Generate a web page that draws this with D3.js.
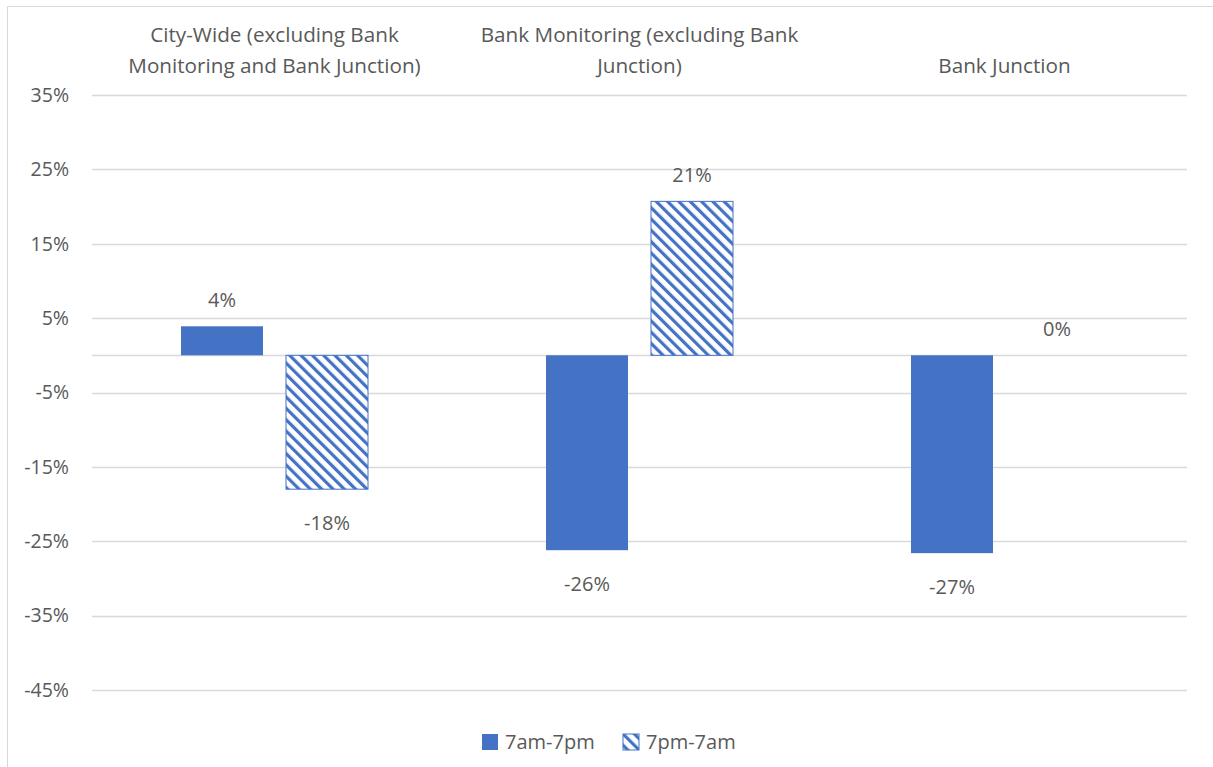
<!DOCTYPE html>
<html>
<head>
	<title>D3.js Grouped Bar Chart</title>
	<script src="https://d3js.org/d3.v7.min.js"></script>
	<style>
		body { margin: 0; background: #fff; }
		text { font-family: "Open Sans", "Noto Sans", sans-serif; fill: #595959; }
	</style>
</head>
<body>
	<script type="text/javascript">
		// Categories (each label split over lines as in the original)
		var categories = [
			["City-Wide (excluding Bank", "Monitoring and Bank Junction)"],
			["Bank Monitoring (excluding Bank", "Junction)"],
			["Bank Junction"]
		];
		var seriesNames = ["7am-7pm", "7pm-7am"];
		var dayValues = [3.9, -26.2, -26.6];
		var nightValues = [-18.0, 20.7, 0];
		var dayLabels = ["4%", "-26%", "-27%"];
		var nightLabels = ["-18%", "21%", "0%"];
		var tickValues = [35, 25, 15, 5, -5, -15, -25, -35, -45];

		var width = 1213, height = 767;
		var plotLeft = 92, plotRight = 1187, plotTop = 95, plotBottom = 690;
		var blue = "#4472c4";

		var svg = d3.select("body").append("svg")
			.attr("width", width)
			.attr("height", height);

		// hatch pattern for the second series (lines running down to the right)
		var defs = svg.append("defs");
		var pat = defs.append("pattern")
			.attr("id", "hatch")
			.attr("patternUnits", "userSpaceOnUse")
			.attr("width", 8).attr("height", 8)
			.attr("patternTransform", "rotate(-45)");
		pat.append("rect").attr("width", 8).attr("height", 8).attr("fill", "#fff");
		pat.append("rect").attr("x", 0).attr("width", 3.2).attr("height", 8).attr("fill", blue);

		// outer chart border (cut off at right and bottom)
		svg.append("rect")
			.attr("x", 7.5).attr("y", 6.5)
			.attr("width", 1220).attr("height", 780)
			.attr("fill", "none")
			.attr("stroke", "#d9d9d9");

		var y = d3.scaleLinear().domain([-45, 35]).range([plotBottom, plotTop]);
		var x0 = d3.scaleBand().domain(d3.range(categories.length)).range([plotLeft, plotRight]);
		var groupWidth = 187;
		var x1 = d3.scaleBand().domain([0, 1]).range([0, groupWidth]).paddingInner(23 / 105);

		// gridlines
		svg.append("g").selectAll("line")
			.data(tickValues.concat([0]))
			.enter().append("line")
			.attr("x1", plotLeft).attr("x2", plotRight)
			.attr("y1", function(d) { return Math.round(y(d)) + 0.5; })
			.attr("y2", function(d) { return Math.round(y(d)) + 0.5; })
			.attr("stroke", "#d9d9d9")
			.attr("stroke-width", 1.5);

		// y tick labels
		svg.append("g").selectAll("text")
			.data(tickValues)
			.enter().append("text")
			.attr("x", 69)
			.attr("y", function(d) { return y(d); })
			.attr("dy", "0.35em")
			.attr("text-anchor", "end")
			.style("font-size", "19.5px")
			.text(function(d) { return d + "%"; });

		// category labels at top
		var catG = svg.append("g").selectAll("text")
			.data(categories)
			.enter().append("text")
			.attr("text-anchor", "middle")
			.style("font-size", "20.7px");
		catG.each(function(lines, i) {
			var t = d3.select(this);
			var cx = x0(i) + x0.bandwidth() / 2;
			var startY = lines.length === 2 ? 42 : 73;
			lines.forEach(function(l, j) {
				t.append("tspan").attr("x", cx).attr("y", startY + j * 31).text(l);
			});
		});

		var groupOffset = (x0.bandwidth() - groupWidth) / 2;
		var series = [
			{ values: dayValues, labels: dayLabels, fill: blue, stroke: "none" },
			{ values: nightValues, labels: nightLabels, fill: "url(#hatch)", stroke: blue }
		];

		series.forEach(function(s, si) {
			var g = svg.append("g");
			g.selectAll("rect")
				.data(s.values)
				.enter().append("rect")
				.attr("x", function(d, i) { return x0(i) + groupOffset + x1(si); })
				.attr("y", function(d) { return y(Math.max(0, d)); })
				.attr("width", x1.bandwidth())
				.attr("height", function(d) { return Math.abs(y(d) - y(0)); })
				.attr("fill", s.fill)
				.attr("stroke", function(d) { return d === 0 ? "none" : s.stroke; })
				.attr("stroke-width", 1);

			g.selectAll("text")
				.data(s.values)
				.enter().append("text")
				.attr("x", function(d, i) { return x0(i) + groupOffset + x1(si) + x1.bandwidth() / 2; })
				.attr("y", function(d) { return d >= 0 ? y(d) - 19 : y(d) + 41; })
				.attr("text-anchor", "middle")
				.style("font-size", "20px")
				.text(function(d, i) { return s.labels[i]; });
		});

		// legend
		var legend = svg.append("g");
		var legendX = [482, 623];
		seriesNames.forEach(function(name, i) {
			legend.append("rect")
				.attr("x", legendX[i]).attr("y", 734)
				.attr("width", 16).attr("height", 16)
				.attr("fill", series[i].fill)
				.attr("stroke", series[i].stroke);
			legend.append("text")
				.attr("x", legendX[i] + 23).attr("y", 742)
				.attr("dy", "0.35em")
				.style("font-size", "20px")
				.text(name);
		});
	</script>
</body>
</html>
